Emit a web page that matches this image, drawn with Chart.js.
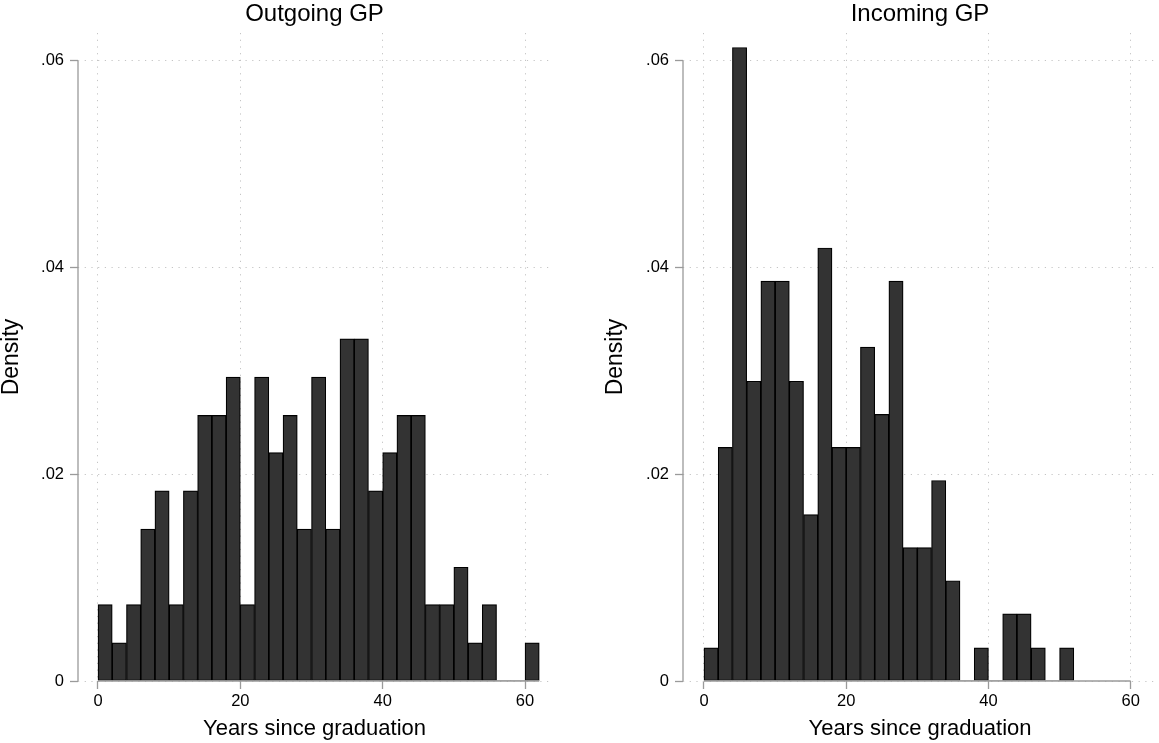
<!DOCTYPE html>
<html>
<head>
<meta charset="utf-8">
<script src="https://cdn.jsdelivr.net/npm/chart.js@4/dist/chart.umd.min.js"></script>
<style>
  body { margin: 0; background: #fff; }
  #wrap { position: relative; width: 1159px; height: 743px; }
  #left { position: absolute; left: 0; top: 0; }
  #right { position: absolute; left: 579px; top: 0; }
</style>
</head>
<body>
<div id="wrap">
  <canvas id="left" width="579" height="743"></canvas>
  <canvas id="right" width="580" height="743"></canvas>
</div>
<script>
/* ================= DATA ================= */
const outgoingBins = [1, 3, 5, 7, 9, 11, 13, 15, 17, 19, 21, 23, 25, 27, 29, 31,
    33, 35, 37, 39, 41, 43, 45, 47, 49, 51, 53, 55, 57, 59, 61];
const outgoingDensity = [0.0074, 0.0037, 0.0074, 0.0147, 0.0184, 0.0074, 0.0184, 0.0257,
    0.0257, 0.0294, 0.0074, 0.0294, 0.0221, 0.0257, 0.0147, 0.0294, 0.0147, 0.0331,
    0.0331, 0.0184, 0.0221, 0.0257, 0.0257, 0.0074, 0.0074, 0.0110, 0.0037, 0.0074,
    0, 0, 0.0037];

const incomingBins = [1, 3, 5, 7, 9, 11, 13, 15, 17, 19, 21, 23, 25, 27, 29, 31,
    33, 35, 37, 39, 41, 43, 45, 47, 49, 51];
const incomingDensity = [0.0032, 0.0226, 0.0613, 0.0290, 0.0387, 0.0387, 0.0290, 0.0161,
    0.0419, 0.0226, 0.0226, 0.0323, 0.0258, 0.0387, 0.0129, 0.0129, 0.0194, 0.0097,
    0, 0.0032, 0, 0.0065, 0.0065, 0.0032, 0, 0.0032];

const xTicks = [0, 20, 40, 60];
const yTicks = [0, 0.02, 0.04, 0.06];
const yTickLabels = ["0", ".02", ".04", ".06"];

const FONT = "'Liberation Sans', Arial, Helvetica, sans-serif";
const AXIS_GRAY = "#9a9a9a";

/* ================= AXIS LINES (Stata style) ================= */
const axisLines = {
    id: "axisLines",
    afterDatasetsDraw(chart, args, opts) {
        const { ctx, chartArea, scales: { x, y } } = chart;
        ctx.save();
        ctx.strokeStyle = AXIS_GRAY;
        ctx.lineWidth = 1.3;
        ctx.beginPath();
        ctx.moveTo(chartArea.left, y.getPixelForValue(yTicks[0]));
        ctx.lineTo(chartArea.left, y.getPixelForValue(yTicks[yTicks.length - 1]));
        ctx.moveTo(x.getPixelForValue(0), chartArea.bottom);
        ctx.lineTo(x.getPixelForValue(opts.xEnd), chartArea.bottom);
        ctx.stroke();
        ctx.restore();
    }
};

/* ================= CHART ================= */
function makeHist(id, title, bins, dens, cfg) {
    const ctx = document.getElementById(id);
    return new Chart(ctx, {
        type: "bar",
        data: {
            datasets: [{
                data: bins.map((b, i) => ({ x: b, y: dens[i] })),
                backgroundColor: "#333333",
                borderColor: "#000000",
                borderWidth: c => (c.raw && c.raw.y > 0 ? 1.2 : 0),
                borderSkipped: false,
                barPercentage: 1,
                categoryPercentage: 1
            }]
        },
        plugins: [axisLines],
        options: {
            responsive: false,
            animation: false,
            devicePixelRatio: 1,
            layout: { padding: cfg.padding },
            plugins: {
                legend: { display: false },
                tooltip: { enabled: false },
                title: {
                    display: true,
                    text: title,
                    fullSize: false,
                    color: "#000",
                    font: { family: FONT, size: 24, weight: "normal", lineHeight: 1.1 },
                    padding: { top: 1.5, bottom: 5.1 }
                },
                axisLines: { xEnd: cfg.xEnd }
            },
            scales: {
                x: {
                    type: "linear",
                    min: cfg.xMin,
                    max: cfg.xMax,
                    offset: false,
                    afterFit: s => { s.height = 62; },
                    afterBuildTicks: s => { s.ticks = xTicks.map(v => ({ value: v })); },
                    grid: {
                        offset: false,
                        color: "#c4c4c4",
                        lineWidth: 1,
                        tickLength: 8,
                        tickColor: AXIS_GRAY,
                        tickWidth: 1.3,
                        tickBorderDash: []
                    },
                    border: { display: false, dash: [1.2, 5.5] },
                    ticks: {
                        color: "#000",
                        font: { family: FONT, size: 16.5 },
                        padding: 3,
                        maxRotation: 0
                    },
                    title: {
                        display: true,
                        text: "Years since graduation",
                        color: "#000",
                        font: { family: FONT, size: 22, lineHeight: 1.2 },
                        padding: { top: 0, bottom: 0.8 }
                    }
                },
                y: {
                    min: 0,
                    max: 0.0627,
                    afterFit: s => { s.width = cfg.yWidth; },
                    afterBuildTicks: s => { s.ticks = yTicks.map(v => ({ value: v })); },
                    grid: {
                        color: "#c4c4c4",
                        lineWidth: 1,
                        tickLength: 8,
                        tickColor: AXIS_GRAY,
                        tickWidth: 1.3,
                        tickBorderDash: []
                    },
                    border: { display: false, dash: [1.2, 5.5] },
                    ticks: {
                        color: "#000",
                        font: { family: FONT, size: 16.5 },
                        padding: 6,
                        callback: v => yTickLabels[yTicks.indexOf(v)]
                    },
                    title: {
                        display: true,
                        text: "Density",
                        color: "#000",
                        font: { family: FONT, size: 23, lineHeight: 1 },
                        padding: { top: 0, bottom: 0 }
                    }
                }
            }
        }
    });
}

document.addEventListener("DOMContentLoaded", () => {
    makeHist("left", "Outgoing GP", outgoingBins, outgoingDensity, {
        padding: { left: 0, right: 28, top: 0, bottom: 0 },
        yWidth: 78, xMin: -2.81, xMax: 63.65, xEnd: 62
    });
    makeHist("right", "Incoming GP", incomingBins, incomingDensity, {
        padding: { left: 25, right: 2, top: 0, bottom: 0 },
        yWidth: 79, xMin: -2.95, xMax: 63.7, xEnd: 60
    });
});
</script>
</body>
</html>
